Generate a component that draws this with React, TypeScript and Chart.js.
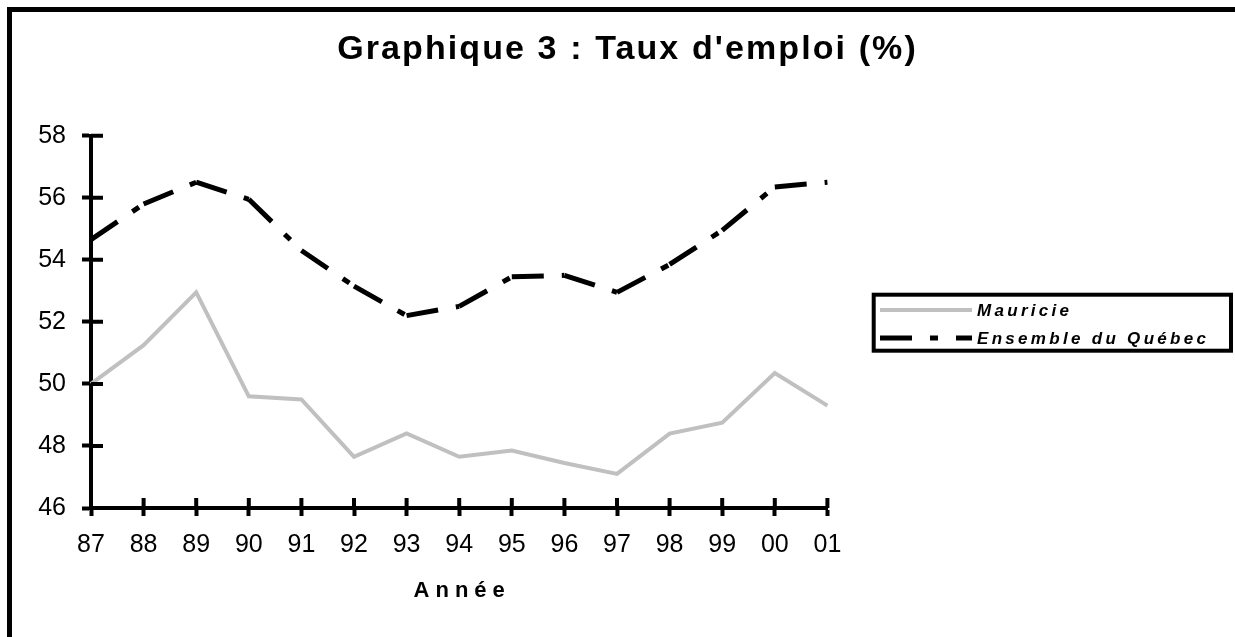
import React, { useEffect, useRef } from "react";
import { Chart, registerables } from "chart.js";

Chart.register(...registerables);

// ---------- data ----------
const years = ["87", "88", "89", "90", "91", "92", "93", "94", "95", "96", "97", "98", "99", "00", "01"];
const mauricie = [50.0, 51.25, 52.95, 49.6, 49.5, 47.65, 48.4, 47.65, 47.85, 47.45, 47.1, 48.4, 48.75, 50.35, 49.3];
const quebec = [54.65, 55.8, 56.5, 55.95, 54.3, 53.15, 52.2, 52.5, 53.45, 53.5, 52.95, 53.85, 54.95, 56.35, 56.5];
const seriesNames = ["Mauricie", "Ensemble du Québec"];
const yMin = 46;
const yMax = 58;
const yStep = 2;
const chartTitle = "Graphique 3 : Taux d'emploi (%)";
const xAxisTitle = "Année";

const FONT = "'Liberation Sans', Arial, Helvetica, sans-serif";

// letter spacing for title and axis title (Excel-like spaced text)
const spacingPlugin = {
  id: "spacing",
  beforeDraw(chart: any) {
    const tb = chart.titleBlock;
    if (tb && !tb.__ls) {
      const orig = tb.draw.bind(tb);
      tb.draw = (...args: any[]) => {
        const c: any = chart.ctx;
        c.save();
        c.translate(10, 0);
        c.letterSpacing = "2.1px";
        orig(...args);
        c.restore();
      };
      tb.__ls = true;
    }
    const xs = chart.scales && chart.scales.x;
    if (xs && !xs.__ls) {
      const origT = xs.drawTitle.bind(xs);
      xs.drawTitle = (...args: any[]) => {
        const c: any = chart.ctx;
        c.save();
        c.translate(3, 0);
        c.letterSpacing = "6px";
        origT(...args);
        c.restore();
      };
      xs.__ls = true;
    }
  },
};

// inner half of the crossing tick marks
const innerTicks = {
  id: "innerTicks",
  afterDraw(chart: any) {
    const { ctx, chartArea, scales } = chart;
    const xs = scales.x;
    const ys = scales.y;
    ctx.save();
    ctx.strokeStyle = "#000";
    ctx.lineWidth = 4;
    ctx.lineCap = "butt";
    ctx.setLineDash([]);
    ctx.beginPath();
    ys.ticks.forEach((_: any, i: number) => {
      const p = ys.getPixelForTick(i);
      ctx.moveTo(chartArea.left, p);
      ctx.lineTo(chartArea.left + 12, p);
    });
    xs.ticks.forEach((_: any, i: number) => {
      const p = xs.getPixelForTick(i);
      ctx.moveTo(p, chartArea.bottom);
      ctx.lineTo(p, chartArea.bottom - 10);
    });
    ctx.stroke();
    ctx.restore();
  },
};

// boxed legend at the right
const boxLegend = {
  id: "boxLegend",
  afterDraw(chart: any) {
    const ctx: any = chart.ctx;
    const boxX = 873.7;
    const boxY = 294.7;
    const boxW = 357.3;
    const boxH = 56;
    ctx.save();
    ctx.setLineDash([]);
    ctx.strokeStyle = "#000";
    ctx.lineWidth = 4;
    ctx.strokeRect(boxX, boxY, boxW, boxH);
    const rows = [310, 338];
    chart.data.datasets.forEach((ds: any, i: number) => {
      const y = rows[i];
      ctx.beginPath();
      ctx.setLineDash(ds.borderDash || []);
      ctx.lineDashOffset = 0;
      ctx.lineCap = "butt";
      ctx.strokeStyle = ds.borderColor;
      ctx.lineWidth = ds.borderWidth;
      ctx.moveTo(880, y);
      ctx.lineTo(972, y);
      ctx.stroke();
      ctx.setLineDash([]);
      ctx.fillStyle = "#000";
      ctx.font = `italic bold 17px ${FONT}`;
      ctx.letterSpacing = "3.3px";
      ctx.textBaseline = "middle";
      ctx.textAlign = "left";
      ctx.fillText(ds.label, 977, y + 1);
      ctx.letterSpacing = "0px";
    });
    ctx.restore();
  },
};

export default function App() {
  const canvasRef = useRef<HTMLCanvasElement | null>(null);

  useEffect(() => {
    if (!canvasRef.current) return;
    const chart = new Chart(canvasRef.current, {
      type: "line",
      data: {
        labels: years,
        datasets: [
          {
            label: seriesNames[0],
            data: mauricie,
            borderColor: "#c0c0c0",
            borderWidth: 4,
            pointRadius: 0,
            tension: 0,
            fill: false,
            borderJoinStyle: "miter",
          },
          {
            label: seriesNames[1],
            data: quebec,
            borderColor: "#000000",
            borderWidth: 5,
            borderDash: [32, 18, 8, 18],
            borderCapStyle: "butt",
            pointRadius: 0,
            tension: 0,
            fill: false,
            segment: {
              borderDashOffset: (c: any) => (c.p0DataIndex % 2 ? 0.001 : 0),
            },
          },
        ],
      },
      options: {
        responsive: false,
        animation: false,
        events: [],
        layout: { padding: { left: 0, right: 0, top: 0, bottom: 0 } },
        plugins: {
          legend: { display: false },
          tooltip: { enabled: false },
          title: {
            display: true,
            text: chartTitle,
            color: "#000",
            font: { family: FONT, size: 34, weight: "bold", lineHeight: 1.2 },
            padding: { top: 29.1, bottom: 65.8 },
          },
        },
        scales: {
          x: {
            type: "category",
            offset: false,
            afterFit: (s: any) => {
              s.height = 129;
            },
            grid: {
              display: true,
              drawOnChartArea: false,
              drawTicks: true,
              tickLength: 8,
              tickWidth: 4,
              tickColor: "#000",
            },
            border: { display: true, color: "#000", width: 4 },
            ticks: {
              color: "#000",
              font: { family: FONT, size: 25, lineHeight: 1.2 },
              padding: 14,
              maxRotation: 0,
              autoSkip: false,
            },
            title: {
              display: true,
              text: xAxisTitle,
              color: "#000",
              font: { family: FONT, size: 22, weight: "bold", lineHeight: 1.2 },
              padding: { top: 0, bottom: 33 },
            },
          },
          y: {
            min: yMin,
            max: yMax,
            afterFit: (s: any) => {
              s.width = 91;
            },
            grid: {
              display: true,
              drawOnChartArea: false,
              drawTicks: true,
              tickLength: 9,
              tickWidth: 4,
              tickColor: "#000",
            },
            border: { display: true, color: "#000", width: 4 },
            ticks: {
              stepSize: yStep,
              color: "#000",
              font: { family: FONT, size: 25, lineHeight: 1.2 },
              padding: 16,
            },
          },
          // empty right-hand band that holds the legend area
          legendBand: {
            type: "linear",
            position: "right",
            afterFit: (s: any) => {
              s.width = 407.6;
            },
            grid: { display: false, drawTicks: false },
            border: { display: false },
            ticks: { display: false },
          },
        },
      } as any,
      plugins: [spacingPlugin, innerTicks, boxLegend],
    });
    return () => chart.destroy();
  }, []);

  return (
    <div style={{ position: "absolute", left: 0, top: 0, width: 1235, height: 637, overflow: "hidden", background: "#fff" }}>
      <div
        style={{
          position: "absolute",
          left: 7,
          top: 7,
          width: 1400,
          height: 800,
          borderLeft: "5px solid #000",
          borderTop: "5px solid #000",
        }}
      />
      <canvas ref={canvasRef} width={1235} height={637} style={{ position: "absolute", left: 0, top: 0 }} />
    </div>
  );
}
